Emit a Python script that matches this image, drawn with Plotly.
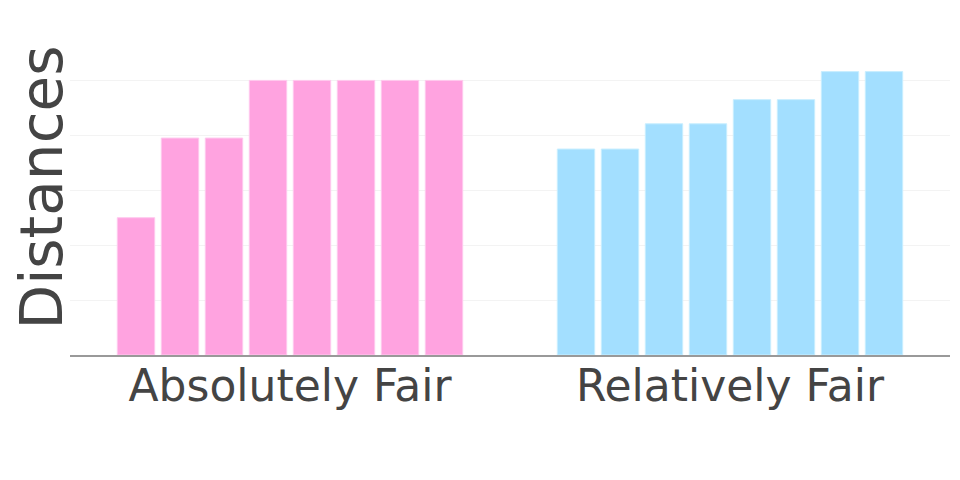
import plotly.graph_objects as go

categories = ["Absolutely Fair", "Relatively Fair"]
absolutely_fair = [2.5, 3.95, 3.95, 5.0, 5.0, 5.0, 5.0, 5.0]
relatively_fair = [3.75, 3.75, 4.21, 4.21, 4.65, 4.65, 5.16, 5.16]
grid_values = [0, 1, 2, 3, 4, 5]
colors = ["rgb(255,163,224)", "rgb(163,223,255)"]
line_colors = ["rgb(255,200,238)", "rgb(200,238,255)"]

fig = go.Figure()
for a, r in zip(absolutely_fair, relatively_fair):
    fig.add_trace(go.Bar(
        x=categories, y=[a, r],
        marker=dict(color=colors, line=dict(color=line_colors, width=1)),
        showlegend=False,
    ))

fig.update_layout(
    width=960, height=480,
    margin=dict(l=62, r=18, t=12, b=133),
    barmode="group", bargap=0.2, bargroupgap=0.15,
    paper_bgcolor="white", plot_bgcolor="white",
    font=dict(family="DejaVu Sans", color="#444"),
    xaxis=dict(tickfont=dict(size=44), showline=True, linecolor="#999", linewidth=2,
               showgrid=False, automargin=False, ticklabelstandoff=-9),
    yaxis=dict(range=[0, 6.1], tickvals=grid_values, showticklabels=False, showgrid=True,
               gridcolor="#f3f3f3", gridwidth=1, zeroline=False, automargin=False,
               anchor="free", position=0.0057,
               title=dict(text="Distances", font=dict(size=58), standoff=0)),
)

fig.write_html("out.html")
